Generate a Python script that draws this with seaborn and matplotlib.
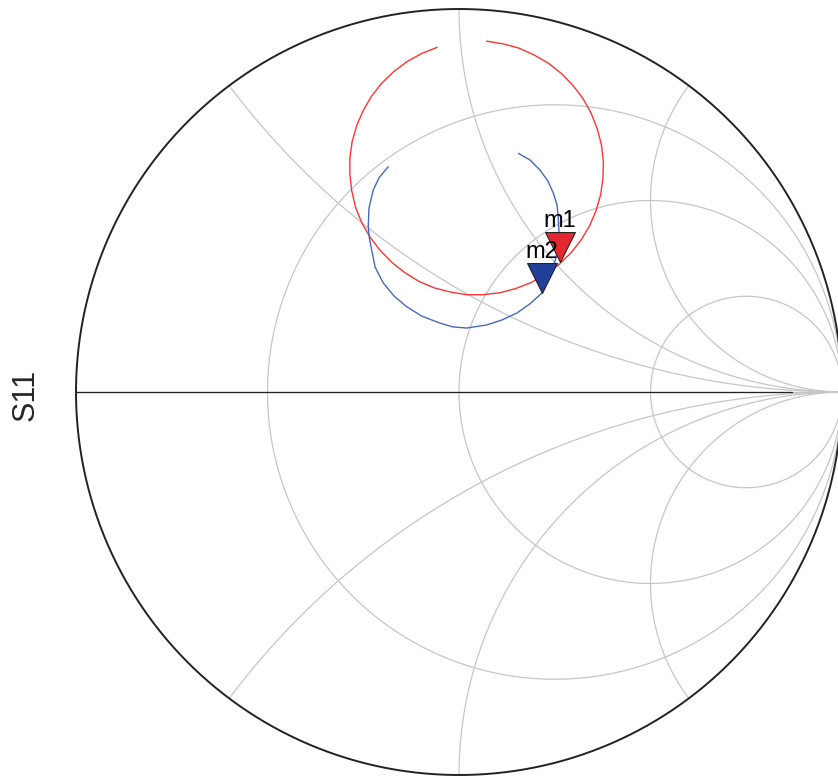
import numpy as np
import pandas as pd
import matplotlib
matplotlib.use("Agg")
import matplotlib.pyplot as plt
import seaborn as sns
from matplotlib.path import Path
from matplotlib.markers import MarkerStyle

# Smith chart grid values (normalised resistance / reactance)
r_grid = [1 / 3, 1, 3]
x_grid = [0.5, 1, 2]

red_re = [-0.057, -0.097, -0.135, -0.170, -0.201, -0.228, -0.250, -0.267, -0.279, -0.285,
          -0.285, -0.280, -0.270, -0.254, -0.232, -0.206, -0.176, -0.142, -0.105, -0.065,
          -0.023, 0.020, 0.063, 0.106, 0.148, 0.189, 0.226, 0.261, 0.292, 0.319,
          0.341, 0.358, 0.370, 0.376, 0.377, 0.372, 0.361, 0.345, 0.324, 0.298,
          0.268, 0.234, 0.196, 0.156, 0.115, 0.072]
red_im = [0.900, 0.884, 0.863, 0.837, 0.807, 0.773, 0.735, 0.696, 0.654, 0.611,
          0.568, 0.525, 0.482, 0.442, 0.404, 0.370, 0.339, 0.312, 0.289, 0.272,
          0.261, 0.254, 0.254, 0.259, 0.270, 0.286, 0.307, 0.333, 0.363, 0.397,
          0.434, 0.474, 0.516, 0.559, 0.602, 0.645, 0.687, 0.728, 0.766, 0.800,
          0.831, 0.858, 0.880, 0.898, 0.909, 0.916]

blue_re = [0.155, 0.185, 0.211, 0.232, 0.246, 0.256, 0.259, 0.261, 0.259, 0.253,
           0.246, 0.232, 0.216, 0.185, 0.151, 0.112, 0.072, 0.020, -0.016, -0.050,
           -0.097, -0.137, -0.170, -0.198, -0.219, -0.228, -0.234, -0.237, -0.235, -0.224,
           -0.209, -0.185]
blue_im = [0.623, 0.606, 0.580, 0.551, 0.520, 0.488, 0.458, 0.418, 0.379, 0.350,
           0.327, 0.292, 0.258, 0.230, 0.206, 0.188, 0.175, 0.167, 0.170, 0.180,
           0.198, 0.223, 0.251, 0.285, 0.326, 0.371, 0.402, 0.432, 0.480, 0.527,
           0.559, 0.588]

marker_names = ["m1", "m2"]
marker_re = [0.264, 0.216]
marker_im = [0.339, 0.258]


def to_gamma(z):
    return (z - 1) / (z + 1)


sns.set_theme(style="white")
plt.rcParams['font.family'] = ['Liberation Sans', 'DejaVu Sans']

fig = plt.figure(figsize=(8.38, 7.76), dpi=100)
ax = fig.add_axes([76 / 838, 1 / 776, 766 / 838, 766 / 776])
ax.set_xlim(-1, 1)
ax.set_ylim(-1, 1)
ax.axis("off")

grid_kw = dict(color="#c6c6c6", lw=0.9, zorder=1, clip_on=False)

# constant resistance circles
phi = np.linspace(0, 2 * np.pi, 721)
for r in r_grid:
    g = r / (1 + r) + np.exp(1j * phi) / (1 + r)
    ax.plot(g.real, g.imag, **grid_kw)

# constant reactance arcs
rr = np.tan(np.linspace(0, np.pi / 2 * 0.99995, 1500))
for x in x_grid:
    for s in (1, -1):
        g = to_gamma(rr + 1j * s * x)
        ax.plot(g.real, g.imag, **grid_kw)

# real axis
ax.plot([-1, 1], [0, 0], **grid_kw)
ax.plot([-1, 0.87], [0, 0], color="#222222", lw=0.9, zorder=2)

# outer unit circle
ax.plot(np.cos(phi), np.sin(phi), color="#222222", lw=1.4, zorder=2, clip_on=False)

red = pd.DataFrame({"re": red_re, "im": red_im})
blue = pd.DataFrame({"re": blue_re, "im": blue_im})
sns.lineplot(data=red, x="re", y="im", sort=False, estimator=None,
             color="#ff3333", lw=1.0, ax=ax, zorder=3)
sns.lineplot(data=blue, x="re", y="im", sort=False, estimator=None,
             color="#4a66c4", lw=1.0, ax=ax, zorder=3)

# downward triangle with its tip on the data point
tri = MarkerStyle(Path([(-1, 2), (1, 2), (0, 0), (-1, 2)], closed=True))
fills = ["#e3262f", "#22409a"]
for i, name in enumerate(marker_names):
    sns.scatterplot(x=[marker_re[i]], y=[marker_im[i]], marker=tri, s=1860,
                    color=fills[i], edgecolor="#1a1a1a", linewidth=0.7,
                    ax=ax, zorder=5 + 2 * i, legend=False)
    ax.annotate(name, (marker_re[i], marker_im[i]), xytext=(0, 25),
                textcoords="offset points", ha="center", va="baseline",
                fontsize=17, color="black", zorder=6 + 2 * i)

ax.set_xlabel("")
ax.set_ylabel("")
fig.text(26 / 838, 1 - 395 / 776, "S11", rotation=90, fontsize=22,
         ha="center", va="center")

fig.savefig("out.png", dpi=100)
